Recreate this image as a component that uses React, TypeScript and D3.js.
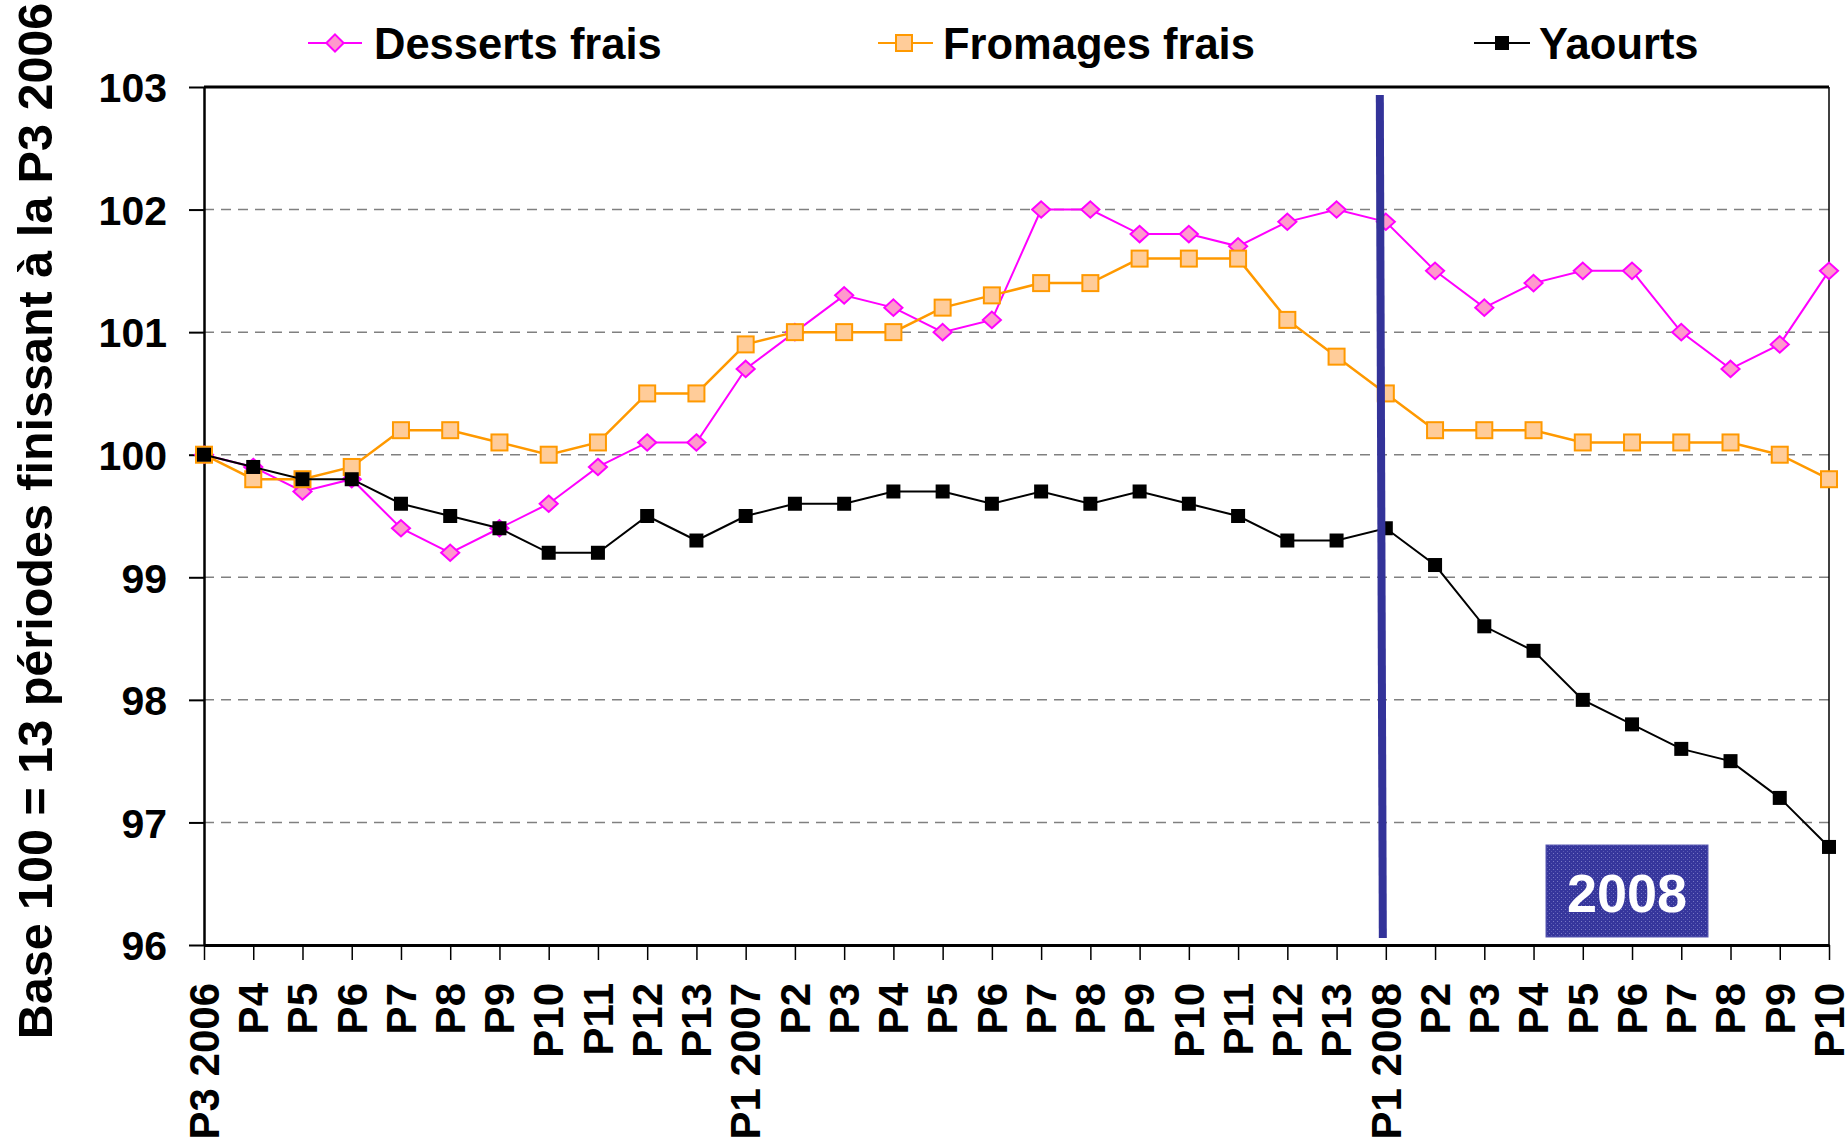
import * as d3 from "d3";
import { useEffect, useRef } from "react";

// periods (13-period retail calendar)
const periods = [
  "P3 2006", "P4", "P5", "P6", "P7", "P8", "P9", "P10", "P11", "P12", "P13",
  "P1 2007", "P2", "P3", "P4", "P5", "P6", "P7", "P8", "P9", "P10", "P11", "P12", "P13",
  "P1 2008", "P2", "P3", "P4", "P5", "P6", "P7", "P8", "P9", "P10",
];

const dessertsFrais = [
  100, 99.9, 99.7, 99.8, 99.4, 99.2, 99.4, 99.6, 99.9, 100.1, 100.1,
  100.7, 101.0, 101.3, 101.2, 101.0, 101.1, 102.0, 102.0, 101.8, 101.8, 101.7, 101.9, 102.0,
  101.9, 101.5, 101.2, 101.4, 101.5, 101.5, 101.0, 100.7, 100.9, 101.5,
];

const fromagesFrais = [
  100, 99.8, 99.8, 99.9, 100.2, 100.2, 100.1, 100.0, 100.1, 100.5, 100.5,
  100.9, 101.0, 101.0, 101.0, 101.2, 101.3, 101.4, 101.4, 101.6, 101.6, 101.6, 101.1, 100.8,
  100.5, 100.2, 100.2, 100.2, 100.1, 100.1, 100.1, 100.1, 100.0, 99.8,
];

const yaourts = [
  100, 99.9, 99.8, 99.8, 99.6, 99.5, 99.4, 99.2, 99.2, 99.5, 99.3,
  99.5, 99.6, 99.6, 99.7, 99.7, 99.6, 99.7, 99.6, 99.7, 99.6, 99.5, 99.3, 99.3,
  99.4, 99.1, 98.6, 98.4, 98.0, 97.8, 97.6, 97.5, 97.2, 96.8,
];

const yTicks = [96, 97, 98, 99, 100, 101, 102, 103];
const yearMarkIndex = 24; // P1 2008
const yearLabel = "2008";
const yTitle = "Base 100 = 13 périodes finissant à la P3 2006";

const FONT = "'Liberation Sans', Arial, Helvetica, sans-serif";

export default function App() {
  const ref = useRef<SVGSVGElement>(null);

  useEffect(() => {
    const svg = d3.select(ref.current);
    svg.selectAll("*").remove();

    const left = 204, right = 1829, top = 87, bottom = 945;

    const x = d3.scalePoint<number>()
      .domain(d3.range(periods.length))
      .range([left, right]);

    const y = d3.scaleLinear()
      .domain([96, 103])
      .range([bottom, top]);

    // pattern for the year box
    const defs = svg.append("defs");
    const pat = defs.append("pattern")
      .attr("id", "dots")
      .attr("width", 4).attr("height", 4)
      .attr("patternUnits", "userSpaceOnUse");
    pat.append("rect").attr("width", 4).attr("height", 4).attr("fill", "#36369c");
    pat.append("rect").attr("x", 1).attr("y", 1).attr("width", 1).attr("height", 1).attr("fill", "#7878c4");
    pat.append("rect").attr("x", 3).attr("y", 3).attr("width", 1).attr("height", 1).attr("fill", "#5a5ab2");

    // gridlines
    svg.append("g")
      .selectAll("line")
      .data(yTicks.filter(t => t > 96 && t < 103))
      .join("line")
      .attr("x1", left).attr("x2", right)
      .attr("y1", d => y(d)).attr("y2", d => y(d))
      .attr("stroke", "#808080")
      .attr("stroke-width", 1.5)
      .attr("stroke-dasharray", "10,7");

    // frame (top + right)
    svg.append("line").attr("x1", left).attr("x2", right).attr("y1", top).attr("y2", top)
      .attr("stroke", "#000").attr("stroke-width", 3);
    svg.append("line").attr("x1", right).attr("x2", right).attr("y1", top).attr("y2", bottom)
      .attr("stroke", "#000").attr("stroke-width", 1.5);

    // y axis
    const yAxis = svg.append("g")
      .attr("transform", `translate(${left},0)`)
      .call(d3.axisLeft(y).tickValues(yTicks).tickSize(15).tickSizeOuter(0).tickPadding(22).tickFormat(d3.format("d")));
    yAxis.select(".domain").attr("stroke-width", 2.5);
    yAxis.selectAll(".tick line").attr("stroke-width", 2);
    yAxis.selectAll("text")
      .attr("font-family", FONT)
      .attr("font-size", 41)
      .attr("font-weight", "bold")
      .attr("fill", "#000")
      .attr("dy", "0.36em");

    // x axis
    const xAxis = svg.append("g")
      .attr("transform", `translate(0,${bottom})`)
      .call(d3.axisBottom(x).tickSize(15).tickSizeOuter(0).tickFormat(i => periods[i as number]));
    xAxis.select(".domain").attr("stroke-width", 3);
    xAxis.selectAll(".tick line").attr("stroke-width", 1.5);
    xAxis.selectAll("text")
      .attr("font-family", FONT)
      .attr("font-size", 42)
      .attr("font-weight", "bold")
      .attr("fill", "#000")
      .attr("transform", "rotate(-90)")
      .attr("text-anchor", "end")
      .attr("x", -38)
      .attr("y", 0)
      .attr("dy", "0.34em");

    const line = d3.line<number>()
      .x((_, i) => x(i)!)
      .y(d => y(d));

    // Desserts frais
    svg.append("path")
      .datum(dessertsFrais)
      .attr("d", line)
      .attr("fill", "none")
      .attr("stroke", "#ff00ff")
      .attr("stroke-width", 2);
    svg.append("g")
      .selectAll("path")
      .data(dessertsFrais)
      .join("path")
      .attr("d", d3.symbol(d3.symbolDiamond2, 190)())
      .attr("transform", (d, i) => `translate(${x(i)},${y(d)}) scale(1.05,0.95)`)
      .attr("fill", "#ff99cc")
      .attr("stroke", "#ff00ff")
      .attr("stroke-width", 2);

    // Fromages frais
    svg.append("path")
      .datum(fromagesFrais)
      .attr("d", line)
      .attr("fill", "none")
      .attr("stroke", "#ff9900")
      .attr("stroke-width", 2.5);
    svg.append("g")
      .selectAll("rect")
      .data(fromagesFrais)
      .join("rect")
      .attr("x", (_, i) => x(i)! - 8)
      .attr("y", d => y(d) - 8)
      .attr("width", 16).attr("height", 16)
      .attr("fill", "#ffcc99")
      .attr("stroke", "#ff9900")
      .attr("stroke-width", 2);

    // Yaourts
    svg.append("path")
      .datum(yaourts)
      .attr("d", line)
      .attr("fill", "none")
      .attr("stroke", "#000")
      .attr("stroke-width", 2);
    svg.append("g")
      .selectAll("rect")
      .data(yaourts)
      .join("rect")
      .attr("x", (_, i) => x(i)! - 7)
      .attr("y", d => y(d) - 7)
      .attr("width", 14).attr("height", 14)
      .attr("fill", "#000");

    // vertical year separator
    const xm = x(yearMarkIndex)!;
    svg.append("line")
      .attr("x1", xm - 6).attr("y1", 95)
      .attr("x2", xm - 3).attr("y2", 938)
      .attr("stroke", "#333399")
      .attr("stroke-width", 8);

    // year box
    svg.append("rect")
      .attr("x", 1546).attr("y", 845)
      .attr("width", 162).attr("height", 92)
      .attr("fill", "url(#dots)")
      .attr("stroke", "#5a5ab2")
      .attr("stroke-width", 1);
    svg.append("text")
      .attr("x", 1627).attr("y", 912)
      .attr("text-anchor", "middle")
      .attr("font-family", FONT)
      .attr("font-size", 54)
      .attr("font-weight", "bold")
      .attr("fill", "#fff")
      .text(yearLabel);

    // y title
    svg.append("text")
      .attr("transform", "translate(52,521) rotate(-90)")
      .attr("text-anchor", "middle")
      .attr("font-family", FONT)
      .attr("font-size", 48.5)
      .attr("font-weight", "bold")
      .attr("fill", "#000")
      .text(yTitle);

    // legend
    const legend = [
      { name: "Desserts frais", x1: 308, cx: 335, x2: 362, tx: 374, kind: "diamond" },
      { name: "Fromages frais", x1: 878, cx: 904, x2: 933, tx: 943, kind: "square" },
      { name: "Yaourts", x1: 1474, cx: 1502, x2: 1530, tx: 1539, kind: "black" },
    ];
    const ly = 43;
    const lg = svg.append("g");
    legend.forEach(l => {
      const stroke = l.kind === "diamond" ? "#ff00ff" : l.kind === "square" ? "#ff9900" : "#000";
      lg.append("line").attr("x1", l.x1).attr("x2", l.x2).attr("y1", ly).attr("y2", ly)
        .attr("stroke", stroke).attr("stroke-width", 2);
      if (l.kind === "diamond") {
        lg.append("path")
          .attr("d", d3.symbol(d3.symbolDiamond2, 190)())
          .attr("transform", `translate(${l.cx},${ly})`)
          .attr("fill", "#ff99cc").attr("stroke", "#ff00ff").attr("stroke-width", 2);
      } else if (l.kind === "square") {
        lg.append("rect").attr("x", l.cx - 8).attr("y", ly - 8).attr("width", 16).attr("height", 16)
          .attr("fill", "#ffcc99").attr("stroke", "#ff9900").attr("stroke-width", 2);
      } else {
        lg.append("rect").attr("x", l.cx - 7).attr("y", ly - 7).attr("width", 14).attr("height", 14)
          .attr("fill", "#000");
      }
      lg.append("text")
        .attr("x", l.tx).attr("y", 59)
        .attr("font-family", FONT)
        .attr("font-size", 43.5)
        .attr("font-weight", "bold")
        .attr("fill", "#000")
        .text(l.name);
    });
  }, []);

  return (
    <svg
      ref={ref}
      width={1847}
      height={1144}
      style={{ position: "absolute", left: 0, top: 0, background: "#fff" }}
    />
  );
}
